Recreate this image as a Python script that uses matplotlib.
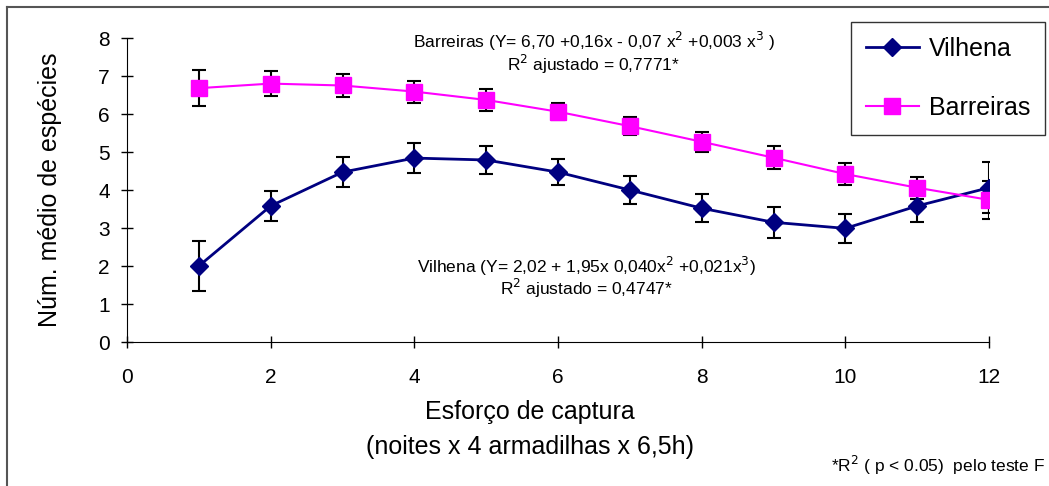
import numpy as np
import matplotlib
matplotlib.use("Agg")
import matplotlib.pyplot as plt
from matplotlib.lines import Line2D

plt.rcParams['font.family'] = ['Liberation Sans', 'DejaVu Sans']

# esforço de captura (noites)
noites = np.arange(1, 13)

# número médio de espécies e erro
vilhena = [2.00, 3.58, 4.47, 4.84, 4.79, 4.47, 4.00, 3.52, 3.15, 2.99, 3.58, 4.06]
vilhena_err = [0.66, 0.40, 0.39, 0.40, 0.37, 0.34, 0.37, 0.37, 0.40, 0.39, 0.43, 0.67]
barreiras = [6.68, 6.80, 6.75, 6.59, 6.37, 6.06, 5.68, 5.27, 4.85, 4.42, 4.06, 3.74]
barreiras_err = [0.48, 0.32, 0.29, 0.29, 0.29, 0.23, 0.24, 0.26, 0.31, 0.29, 0.29, 0.50]

fig = plt.figure(figsize=(10.49, 4.86), dpi=100)
ax = fig.add_axes([127 / 1049, 1 - 342 / 486, (989 - 127) / 1049, (342 - 38) / 486])

ax.errorbar(noites, vilhena, yerr=vilhena_err, color='#000080', lw=2,
            marker='D', ms=9, mfc='#000080', mec='#000080',
            ecolor='black', elinewidth=1.5, capsize=5, capthick=1.5, zorder=3)
ax.errorbar(noites, barreiras, yerr=barreiras_err, color='#FF00FF', lw=1.5,
            marker='s', ms=11, mfc='#FF00FF', mec='#FF00FF',
            ecolor='black', elinewidth=1.5, capsize=5, capthick=1.5, zorder=3)

ax.set_xlim(0, 12)
ax.set_ylim(0, 8)
ax.set_xticks(range(0, 13, 2))
ax.set_yticks(range(0, 9))
ax.spines['top'].set_visible(False)
ax.spines['right'].set_visible(False)
ax.tick_params(direction='inout', length=9, width=1, labelsize=15, pad=8)
ax.tick_params(axis='x', pad=14)

ax.set_ylabel('Núm. médio de espécies', fontsize=18, labelpad=26)

fig.text(530 / 1049, 1 - 412 / 486, 'Esforço de captura', fontsize=18,
         ha='center', va='center')
fig.text(530 / 1049, 1 - 447 / 486, '(noites x 4 armadilhas x 6,5h)', fontsize=18,
         ha='center', va='center')
fig.text(1045 / 1049, 1 - 465 / 486, r'*R$^2$ ( p < 0.05)  pelo teste F', fontsize=12.5,
         ha='right', va='center')

ax.text(6.5, 7.9, r'Barreiras (Y= 6,70 +0,16x - 0,07 x$^2$ +0,003 x$^3$ )',
        fontsize=12.5, ha='center', va='center')
ax.text(6.5, 7.3, r'R$^2$ ajustado = 0,7771*', fontsize=12.5, ha='center', va='center')
ax.text(6.4, 2.0, r'Vilhena (Y= 2,02 + 1,95x 0,040x$^2$ +0,021x$^3$)',
        fontsize=12.5, ha='center', va='center')
ax.text(6.4, 1.42, r'R$^2$ ajustado = 0,4747*', fontsize=12.5, ha='center', va='center')

handles = [
    Line2D([], [], color='#000080', lw=2, marker='D', ms=9, mfc='#000080', mec='#000080'),
    Line2D([], [], color='#FF00FF', lw=1.5, marker='s', ms=11, mfc='#FF00FF', mec='#FF00FF'),
]
leg = fig.legend(handles, ['Vilhena', 'Barreiras'], loc='upper right',
                 bbox_to_anchor=(1045 / 1049, 1 - 22 / 486),
                 fontsize=18, frameon=True, fancybox=False, edgecolor='black',
                 handlelength=2.1, labelspacing=1.4, borderpad=0.6,
                 handletextpad=0.4, borderaxespad=0)
leg.get_frame().set_linewidth(1)

# moldura da figura
fig.add_artist(Line2D([7 / 1049, 1], [1 - 7 / 486, 1 - 7 / 486], color='#555555', lw=1.5))
fig.add_artist(Line2D([7 / 1049, 7 / 1049], [0, 1 - 7 / 486], color='#555555', lw=1.5))

fig.savefig('out.png', dpi=100)
